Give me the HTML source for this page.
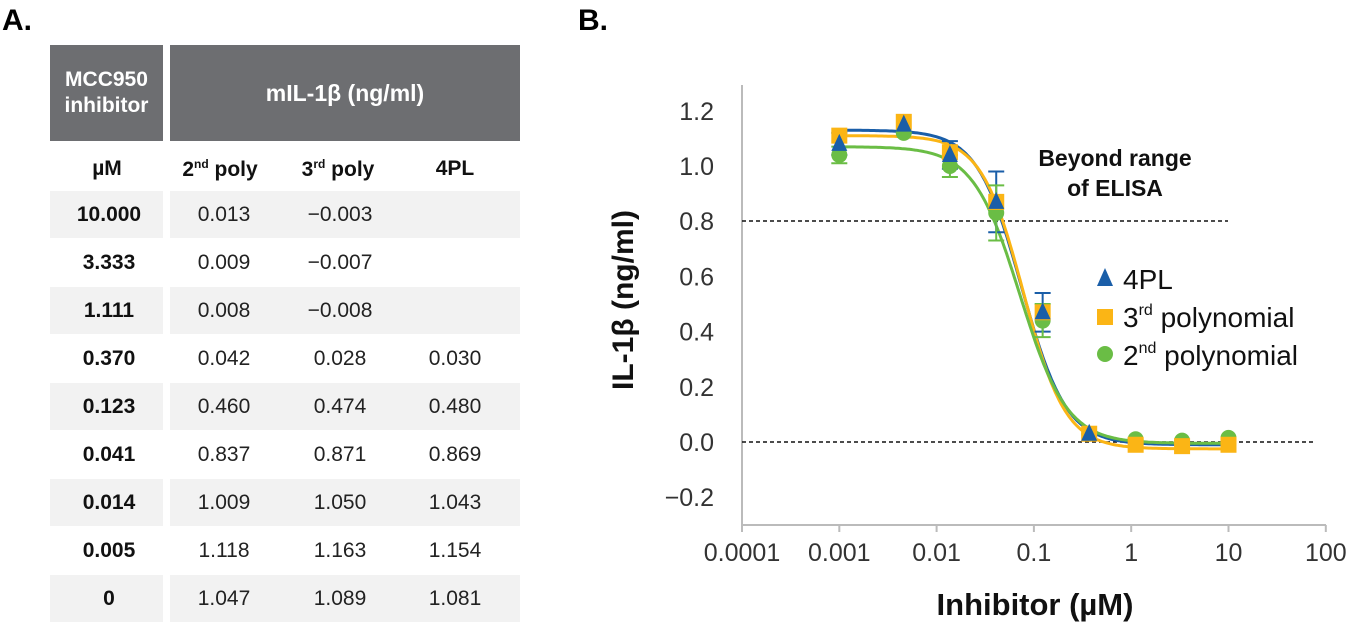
<!DOCTYPE html>
<html><head><meta charset="utf-8"><style>
body{margin:0;width:1351px;height:626px;background:#fff;font-family:"Liberation Sans",sans-serif;position:relative;overflow:hidden}
.a{position:absolute}
.hd{background:#6d6e71;color:#fff;font-weight:bold;font-size:21px;display:flex;align-items:center;justify-content:center;text-align:center;line-height:26px}
.sh{background:#f2f2f2}
.c{position:absolute;width:140px;margin-left:-70px;text-align:center;font-size:21px;color:#222}
b.c{font-weight:bold;color:#111}
sup{font-size:12px;vertical-align:8px}
</style></head><body>
<div class="a" style="left:2px;top:4px;font-size:30px;font-weight:bold">A.</div>
<div class="a" style="left:578px;top:4px;font-size:30px;font-weight:bold">B.</div>
<div class="a hd" style="left:50px;top:45px;width:113px;height:96px">MCC950<br>inhibitor</div>
<div class="a hd" style="left:170px;top:45px;width:350px;height:96px;font-size:23px">mIL-1β (ng/ml)</div>
<div id="tbl"></div>
<svg class="a" style="left:0;top:0" width="1351" height="626" id="s"></svg>
<script>
var t=document.getElementById('tbl'),h='';
var rows=[["10.000","0.013","−0.003",""],["3.333","0.009","−0.007",""],["1.111","0.008","−0.008",""],["0.370","0.042","0.028","0.030"],["0.123","0.460","0.474","0.480"],["0.041","0.837","0.871","0.869"],["0.014","1.009","1.050","1.043"],["0.005","1.118","1.163","1.154"],["0","1.047","1.089","1.081"]];
h+='<b class="c" style="left:107px;top:157px">µM</b><b class="c" style="left:220px;top:157px">2<sup>nd</sup> poly</b><b class="c" style="left:338px;top:157px">3<sup>rd</sup> poly</b><b class="c" style="left:455px;top:157px">4PL</b>';
rows.forEach(function(r,i){var y=191+i*48;
if(i%2==0)h+='<div class="a sh" style="left:50px;top:'+y+'px;width:113px;height:47px"></div><div class="a sh" style="left:170px;top:'+y+'px;width:350px;height:47px"></div>';
h+='<b class="c" style="left:109px;top:'+(y+12)+'px">'+r[0]+'</b><span class="c" style="left:224px;top:'+(y+12)+'px">'+r[1]+'</span><span class="c" style="left:340px;top:'+(y+12)+'px">'+r[2]+'</span><span class="c" style="left:455px;top:'+(y+12)+'px">'+r[3]+'</span>';});
t.innerHTML=h;
function X(v){return 742+97.3*(Math.log10(v)+4)}function Y(v){return 442-v*276}
var s='';
s+='<line x1="742" y1="85" x2="742" y2="525" stroke="#bbb" stroke-width="2"/><line x1="742" y1="525" x2="1326" y2="525" stroke="#bbb" stroke-width="2"/>';
for(var k=0;k<=6;k++){var x=742+97.3*k;s+='<line x1="'+x+'" y1="525" x2="'+x+'" y2="532" stroke="#bbb" stroke-width="2"/>';
s+='<text x="'+x+'" y="561" font-size="25" text-anchor="middle" fill="#333">'+["0.0001","0.001","0.01","0.1","1","10","100"][k]+'</text>';}
for(var v=-0.2;v<1.25;v+=0.2){var vv=Math.round(v*10)/10;s+='<text x="714" y="'+(Y(vv)+9)+'" font-size="25" text-anchor="end" fill="#333">'+(vv<0?'−0.2':vv.toFixed(1))+'</text>';}
s+='<line x1="742" y1="221" x2="1228" y2="221" stroke="#111" stroke-width="1.5" stroke-dasharray="4,3"/><line x1="742" y1="442" x2="1316" y2="442" stroke="#111" stroke-width="1.5" stroke-dasharray="4,3"/>';
function curve(top,bot,ic,hl,col){var p='';for(var l=-3;l<=1.001;l+=0.02){var x=Math.pow(10,l);var y=bot+(top-bot)/(1+Math.pow(x/ic,hl));p+=(p?'L':'M')+X(x).toFixed(1)+','+Y(y).toFixed(1);}return '<path d="'+p+'" fill="none" stroke="'+col+'" stroke-width="3"/>';}
s+=curve(1.13,-0.01,0.075,1.9,'#1a5ea8');s+=curve(1.11,-0.025,0.078,2.0,'#fbb515');s+=curve(1.07,-0.005,0.072,1.8,'#6abd45');
var xs=[0.001,0.0046,0.0137,0.041,0.123,0.37,1.111,3.333,10];
var tri=[1.08,1.15,1.04,0.87,0.47,0.03],sq=[1.11,1.16,1.05,0.87,0.47,0.03,-0.01,-0.015,-0.01],ci=[1.04,1.12,1.00,0.83,0.44,0.03,0.01,0.005,0.015];
var err=[[0.04,0.03],[0.0,0.0],[0.05,0.04],[0.11,0.1],[0.07,0.06]];
err.forEach(function(e,i){var x=X(xs[i]);[[tri[i],e[0],'#1a5ea8'],[ci[i],e[1],'#6abd45']].forEach(function(a){if(!a[1])return;s+='<path d="M'+x+','+Y(a[0]-a[1])+'V'+Y(a[0]+a[1])+'M'+(x-8)+','+Y(a[0]-a[1])+'h16M'+(x-8)+','+Y(a[0]+a[1])+'h16" stroke="'+a[2]+'" stroke-width="2" fill="none"/>';});});
ci.forEach(function(v,i){s+='<circle cx="'+X(xs[i])+'" cy="'+Y(v)+'" r="8" fill="#6abd45"/>';});
sq.forEach(function(v,i){s+='<rect x="'+(X(xs[i])-8)+'" y="'+(Y(v)-8)+'" width="16" height="16" fill="#fbb515"/>';});
tri.forEach(function(v,i){var x=X(xs[i]),y=Y(v);s+='<path d="M'+x+','+(y-10)+'L'+(x+8)+','+(y+7)+'L'+(x-8)+','+(y+7)+'Z" fill="#1a5ea8"/>';});
s+='<text x="1115" y="166" font-size="23" font-weight="bold" text-anchor="middle" fill="#111">Beyond range</text><text x="1115" y="196" font-size="23" font-weight="bold" text-anchor="middle" fill="#111">of ELISA</text>';
s+='<path d="M1105,268L1113,286L1097,286Z" fill="#1a5ea8"/><rect x="1097" y="309" width="16" height="16" fill="#fbb515"/><circle cx="1105" cy="354" r="8" fill="#6abd45"/>';
s+='<text x="1123" y="289" font-size="28" fill="#111">4PL</text><text x="1123" y="327" font-size="28" fill="#111">3<tspan font-size="16" dy="-12">rd</tspan><tspan dy="12"> polynomial</tspan></text><text x="1123" y="365" font-size="28" fill="#111">2<tspan font-size="16" dy="-12">nd</tspan><tspan dy="12"> polynomial</tspan></text>';
s+='<text x="1035" y="615" font-size="31" font-weight="bold" text-anchor="middle" fill="#111">Inhibitor (µM)</text>';
s+='<text transform="translate(633,300) rotate(-90)" font-size="30" font-weight="bold" text-anchor="middle" fill="#111">IL-1β (ng/ml)</text>';
document.getElementById('s').innerHTML=s;
</script>
</body></html>
